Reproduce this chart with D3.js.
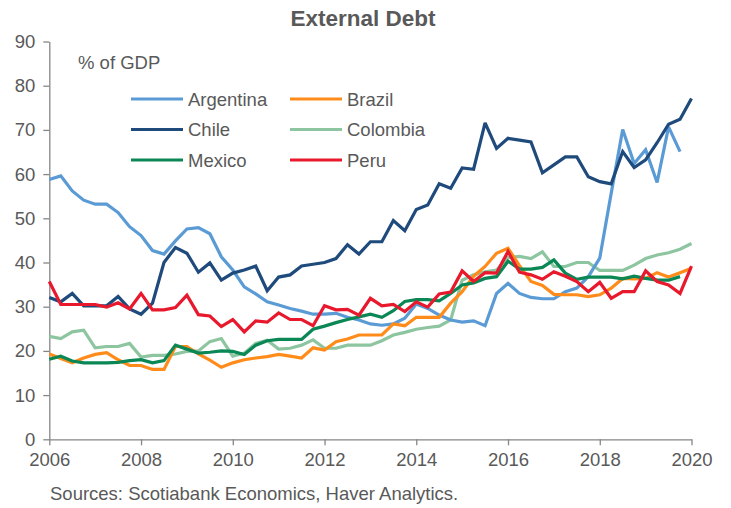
<!DOCTYPE html>
<html>
<head>
<meta charset="utf-8">
<script src="https://cdn.jsdelivr.net/npm/d3@7/dist/d3.min.js"></script>
<style>
  html, body { margin: 0; padding: 0; background: #fff; }
  svg { display: block; font-family: "Liberation Sans", Arial, sans-serif; }
</style>
</head>
<body>
<svg id="chart" width="731" height="508"></svg>
<script>
// Quarterly observations starting 2006 Q1
const startYear = 2006;
const xTicks = [2006, 2008, 2010, 2012, 2014, 2016, 2018, 2020];
const yTicks = [0, 10, 20, 30, 40, 50, 60, 70, 80, 90];

const argentina = [58.8, 59.6, 56.2, 54.1, 53.2, 53.2, 51.3, 48.1, 46.1, 42.7, 41.9, 44.9, 47.6, 47.9, 46.5,
  41.3, 38.3, 34.5, 32.9, 31.1, 30.4, 29.6, 29.0, 28.3, 28.3, 28.5, 27.6, 27.0,
  26.1, 25.8, 26.1, 27.4, 30.6, 29.6, 28.1, 27.0, 26.5, 26.8, 25.7, 33.0, 35.3, 33.0,
  32.1, 31.8, 31.8, 33.4, 34.2, 36.8, 41.0, 55.7, 70.1, 62.4, 65.5, 58.1, 70.7, 65.1];

const chile = [32.1, 31.1, 33.0, 30.2, 30.2, 30.2, 32.3, 29.5, 28.3, 30.8, 40.0, 43.4, 42.1, 37.8, 39.9,
  36.0, 37.6, 38.3, 39.2, 33.6, 36.7, 37.2, 39.2, 39.6, 40.0, 40.9, 44.0, 41.9,
  44.7, 44.7, 49.5, 47.2, 52.0, 53.0, 57.8, 56.8, 61.4, 61.1, 71.6, 65.8, 68.1, 67.7,
  67.3, 60.3, 62.1, 63.9, 63.9, 59.4, 58.3, 57.8, 65.1, 61.5, 63.2, 67.1, 71.3, 72.4, 77.1];

const mexico = [18.1, 18.8, 17.7, 17.3, 17.3, 17.3, 17.4, 17.8, 18.0, 17.3, 17.8, 21.3, 20.4,
  19.5, 19.7, 20.0, 19.9, 19.2, 21.3, 22.3, 22.6, 22.6, 22.6, 24.9, 25.6, 26.4, 27.1, 27.7,
  28.3, 27.6, 29.1, 31.2, 31.6, 31.6, 31.3, 33.0, 34.9, 35.4, 36.4, 36.8, 40.3, 38.5,
  38.5, 38.9, 40.6, 37.6, 36.2, 36.7, 36.7, 36.7, 36.3, 36.9, 36.4, 36.0, 36.0, 36.8];

const brazil = [19.3, 18.3, 17.3, 18.4, 19.2, 19.6, 18.0, 16.7, 16.7, 15.8, 15.8, 21.0, 21.0,
  19.3, 17.9, 16.3, 17.3, 18.0, 18.4, 18.7, 19.2, 18.8, 18.4, 20.7, 20.2, 22.1, 22.7, 23.6,
  23.6, 23.6, 26.1, 25.7, 27.6, 27.6, 27.6, 30.8, 33.4, 36.9, 39.1, 42.1, 43.2, 39.3,
  35.7, 34.8, 32.8, 32.7, 32.7, 32.3, 32.7, 34.2, 36.4, 36.3, 36.4, 37.7, 36.7, 37.7, 38.7];

const colombia = [23.3, 22.8, 24.3, 24.7, 20.7, 21.0, 21.0, 21.7, 18.6, 19.0, 19.0, 19.3, 19.9,
  20.0, 22.1, 22.8, 18.8, 19.5, 21.7, 22.4, 20.4, 20.6, 21.3, 22.5, 20.6, 20.6, 21.3, 21.3,
  21.3, 22.3, 23.6, 24.2, 24.9, 25.3, 25.6, 27.0, 36.0, 37.2, 37.9, 38.3, 41.1, 41.4,
  40.9, 42.4, 39.1, 39.1, 40.0, 40.0, 38.2, 38.2, 38.2, 39.4, 40.9, 41.7, 42.2, 43.0, 44.3];

const peru = [35.7, 30.5, 30.5, 30.5, 30.5, 29.9, 30.9, 29.5, 33.0, 29.3, 29.3, 29.8, 32.6, 28.2, 27.9,
  25.5, 27.1, 24.3, 26.8, 26.5, 28.6, 27.1, 27.1, 25.7, 30.2, 29.3, 29.4, 28.1,
  31.9, 30.2, 30.5, 28.9, 31.1, 29.9, 32.9, 33.3, 38.1, 35.7, 37.7, 37.6, 42.5, 37.8,
  37.2, 36.2, 37.9, 36.9, 35.7, 33.4, 35.5, 31.9, 33.4, 33.4, 38.1, 35.7, 34.9, 33.0, 39.2];

const seriesNames = ["Argentina", "Brazil", "Chile", "Colombia", "Mexico", "Peru"];
const seriesValues = [argentina, brazil, chile, colombia, mexico, peru];
const seriesColors = ["#5B9BD5", "#FF8C1A", "#1F4A7C", "#8DC5A0", "#0A8755", "#E8192C"];
// drawing order (back to front)
const drawOrder = ["Colombia", "Argentina", "Chile", "Brazil", "Mexico", "Peru"];

const svg = d3.select("#chart");
const textColor = "#595959";
const axisColor = "#868686";

const x = d3.scaleLinear().domain([2006, 2020]).range([49.3, 691.5]);
const y = d3.scaleLinear().domain([0, 90]).range([439.3, 41.5]);

// Title
svg.append("text")
  .attr("x", 363).attr("y", 26)
  .attr("text-anchor", "middle")
  .attr("font-size", 22.5).attr("font-weight", "bold")
  .attr("fill", textColor)
  .text("External Debt");

// Y axis
const yAxis = svg.append("g")
  .attr("transform", `translate(${x(2006)},0)`)
  .call(d3.axisLeft(y).tickValues(yTicks).tickSize(6).tickSizeOuter(0).tickPadding(8).tickFormat(d3.format("d")));
yAxis.select(".domain").attr("stroke", axisColor).attr("stroke-width", 1.3);
yAxis.selectAll(".tick line").attr("stroke", axisColor).attr("stroke-width", 1.3);
yAxis.selectAll(".tick text").attr("fill", textColor).attr("font-size", 18.5)
  .attr("font-family", "Liberation Sans, Arial, sans-serif");

// X axis
const xAxis = svg.append("g")
  .attr("transform", `translate(0,${y(0)})`)
  .call(d3.axisBottom(x).tickValues(xTicks).tickSize(6).tickSizeOuter(0).tickPadding(8).tickFormat(d3.format("d")));
xAxis.select(".domain").attr("stroke", axisColor).attr("stroke-width", 1.3);
xAxis.selectAll(".tick line").attr("stroke", axisColor).attr("stroke-width", 1.3);
xAxis.selectAll(".tick text").attr("fill", textColor).attr("font-size", 18.5)
  .attr("font-family", "Liberation Sans, Arial, sans-serif");

// Lines
const line = d3.line()
  .x((d, i) => x(startYear + i * 0.25))
  .y(d => y(d));

drawOrder.forEach(name => {
  const k = seriesNames.indexOf(name);
  svg.append("path")
    .datum(seriesValues[k])
    .attr("fill", "none")
    .attr("stroke", seriesColors[k])
    .attr("stroke-width", 3.2)
    .attr("stroke-linejoin", "miter")
    .attr("stroke-miterlimit", 3)
    .attr("d", line);
});

// Unit label
svg.append("text")
  .attr("x", 78).attr("y", 69)
  .attr("font-size", 18.5).attr("fill", textColor)
  .text("% of GDP");

// Legend
const legendCols = [131, 290];
const legendRows = [99, 129.5, 160];
seriesNames.forEach((name, k) => {
  const col = k % 2, row = Math.floor(k / 2);
  const lx = legendCols[col], ly = legendRows[row];
  svg.append("line")
    .attr("x1", lx).attr("x2", lx + 52)
    .attr("y1", ly).attr("y2", ly)
    .attr("stroke", seriesColors[k]).attr("stroke-width", 3.2);
  svg.append("text")
    .attr("x", lx + 57).attr("y", ly + 6.5)
    .attr("font-size", 18.5).attr("fill", textColor)
    .text(name);
});

// Source
svg.append("text")
  .attr("x", 50).attr("y", 500)
  .attr("font-size", 18.5).attr("fill", textColor)
  .text("Sources: Scotiabank Economics, Haver Analytics.");
</script>
</body>
</html>
